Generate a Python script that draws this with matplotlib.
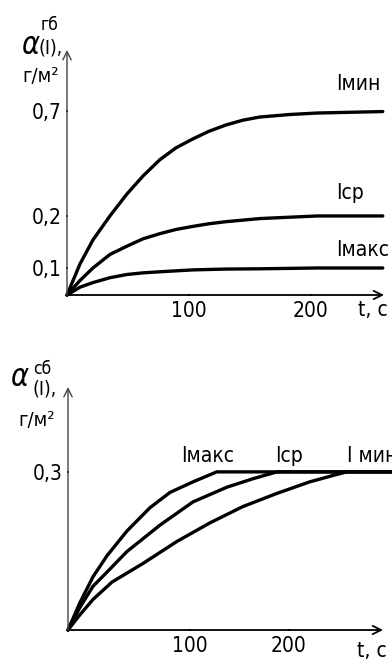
import os
import numpy as np
import matplotlib
matplotlib.use("Agg")
import matplotlib.pyplot as plt
from matplotlib import font_manager as fm

# ---------------- data ----------------
# top panel: alpha_gb(I), g/m^2 vs t, s
t_top_min = [0, 10.7, 21.3, 35.2, 49.2, 62.3, 76.2, 89.3, 103.3, 116.4, 130.3, 144.3, 158.2, 182.8, 205, 259]
a_top_min = [0, 0.108, 0.154, 0.2, 0.305, 0.39, 0.468, 0.524, 0.567, 0.603, 0.633, 0.656, 0.671, 0.683, 0.69, 0.697]
t_top_mid = [0, 10.7, 21.3, 35.2, 49.2, 62.3, 76.2, 89.3, 103.3, 116.4, 130.3, 144.3, 158.2, 205, 259]
a_top_mid = [0, 0.054, 0.1, 0.126, 0.142, 0.156, 0.166, 0.174, 0.18, 0.185, 0.189, 0.192, 0.195, 0.2, 0.2]
t_top_max = [0, 10.7, 21.3, 35.2, 49.2, 62.3, 76.2, 103.3, 130.3, 158.2, 205, 259]
a_top_max = [0, 0.029, 0.046, 0.064, 0.076, 0.082, 0.086, 0.093, 0.096, 0.097, 0.1, 0.1]
top_yticks = [0.1, 0.2, 0.7]
top_yticklabels = ["0,1", "0,2", "0,7"]

# bottom panel: alpha_sb(I), g/m^2 vs t, s
t_bot_max = [0, 9.8, 20.5, 32, 48.4, 67.2, 83.6, 103, 127, 293]
a_bot_max = [0, 0.052, 0.101, 0.141, 0.188, 0.232, 0.261, 0.281, 0.3, 0.3]
t_bot_mid = [0, 9.8, 20.5, 32, 48.4, 75.4, 103, 137.4, 163.6, 187.9, 293]
a_bot_mid = [0, 0.043, 0.083, 0.11, 0.149, 0.199, 0.243, 0.271, 0.287, 0.3, 0.3]
t_bot_min = [0, 9.8, 20.5, 36.1, 61.3, 89.3, 119.9, 153.2, 187.6, 218.6, 239.4, 252, 293]
a_bot_min = [0, 0.029, 0.058, 0.091, 0.126, 0.168, 0.203, 0.234, 0.259, 0.281, 0.293, 0.3, 0.3]
bot_yticks = [0.3]
bot_yticklabels = ["0,3"]

xticks = [100, 200]
xticklabels = ["100", "200"]

# ---------------- fonts ----------------
FAM, STRETCH, SCALE = "DejaVu Sans", "normal", 0.92
cond = [f for f in fm.fontManager.ttflist
        if os.path.basename(f.fname) == "DejaVuSansCondensed.ttf"]
if cond:
    FAM, STRETCH, SCALE = cond[0].name, cond[0].stretch, 1.0
else:
    try:
        fm.findfont(fm.FontProperties(family="Liberation Sans Narrow"),
                    fallback_to_default=False)
        FAM, STRETCH, SCALE = "Liberation Sans Narrow", "normal", 1.12
    except Exception:
        pass

plt.rcParams["font.family"] = [FAM, "DejaVu Sans"]
plt.rcParams["font.stretch"] = STRETCH
plt.rcParams["mathtext.fontset"] = "dejavusans"

FS = 15 * SCALE

W, H = 392, 662
fig = plt.figure(figsize=(W / 100, H / 100), dpi=100)

def fx(x):
    return x / W

def fy(y):
    return 1 - y / H

def piecewise(src, dst):
    src = np.asarray(src, float)
    dst = np.asarray(dst, float)
    def fwd(v):
        return np.interp(v, src, dst, left=-1e3, right=dst[-1] + 1e3)
    def inv(v):
        return np.interp(v, dst, src)
    return fwd, inv

def make_axes(x0, y0, x1, y1, xmap, ymap, xmax, ymax):
    ax = fig.add_axes([fx(x0), fy(y0), fx(x1) - fx(x0), fy(y1) - fy(y0)])
    ax.set_xscale("function", functions=piecewise(*xmap))
    ax.set_yscale("function", functions=piecewise(*ymap))
    ax.set_xlim(0, xmax)
    ax.set_ylim(0, ymax)
    for s in ax.spines.values():
        s.set_visible(False)
    ax.patch.set_alpha(0)
    ax.annotate("", xy=(1, 0), xytext=(0, 0), xycoords="axes fraction",
                arrowprops=dict(arrowstyle="->,head_length=0.6,head_width=0.3",
                                lw=1.3, color="black", shrinkA=0, shrinkB=0))
    ax.annotate("", xy=(0, 1), xytext=(0, 0), xycoords="axes fraction",
                arrowprops=dict(arrowstyle="->,head_length=0.6,head_width=0.3",
                                lw=1.0, color="#444444", shrinkA=0, shrinkB=0))
    ax.tick_params(length=2, width=1.3, direction="inout", colors="black",
                   labelsize=FS, pad=3)
    ax.set_xticks(xticks)
    ax.set_xticklabels(xticklabels)
    ax.minorticks_off()
    return ax

LW = 2.4
line_kw = dict(color="black", lw=LW, solid_capstyle="round",
               solid_joinstyle="round", clip_on=False)

# ---------------- top panel ----------------
ax1 = make_axes(67, 295, 384, 50,
                ([0, 100, 200, 300], [0, 122, 244, 366]),
                ([0, 0.1, 0.2, 0.7, 1.0], [0, 27, 79, 184, 247]),
                260, 0.99)
ax1.plot(t_top_min, a_top_min, **line_kw)
ax1.plot(t_top_mid, a_top_mid, **line_kw)
ax1.plot(t_top_max, a_top_max, **line_kw)
ax1.set_yticks(top_yticks)
ax1.set_yticklabels(top_yticklabels)

# ---------------- bottom panel ----------------
ax2 = make_axes(68, 630, 383, 387,
                ([0, 100, 200, 300], [0, 122, 221, 332]),
                ([0, 0.3, 1.0], [0, 158, 158 / 0.3]),
                284.7, 0.461)
ax2.plot(t_bot_max, a_bot_max, **line_kw)
ax2.plot(t_bot_mid, a_bot_mid, **line_kw)
ax2.plot(t_bot_min, a_bot_min, **line_kw)
ax2.set_yticks(bot_yticks)
ax2.set_yticklabels(bot_yticklabels)

# ---------------- texts ----------------
def T(x, y, s, size=FS, ha="left", va="center", **kw):
    fig.text(fx(x), fy(y), s, fontsize=size, ha=ha, va=va, **kw)

# curve labels
T(336, 84, "Iмин")
T(336, 193, "Iср")
T(336, 250, "Iмакс")
T(181, 456, "Iмакс")
T(275, 456, "Iср")
T(347, 456, "I мин")

# axis names
T(373, 310, "t, с", ha="center")
T(372, 651, "t, с", ha="center")

# y-axis titles
T(31, 45, r"$\alpha$", size=22, ha="center")
T(41, 25, "гб", size=12.5 * SCALE)
T(39, 48, "(I),", size=14 * SCALE)
T(41, 76, "г/м²", size=14.5 * SCALE, ha="center")

T(20, 378, r"$\alpha$", size=22, ha="center")
T(33, 369, "сб", size=12.5 * SCALE)
T(32, 389, "(I),", size=14 * SCALE)
T(37, 420, "г/м²", size=14.5 * SCALE, ha="center")

fig.savefig("out.png", dpi=100)
